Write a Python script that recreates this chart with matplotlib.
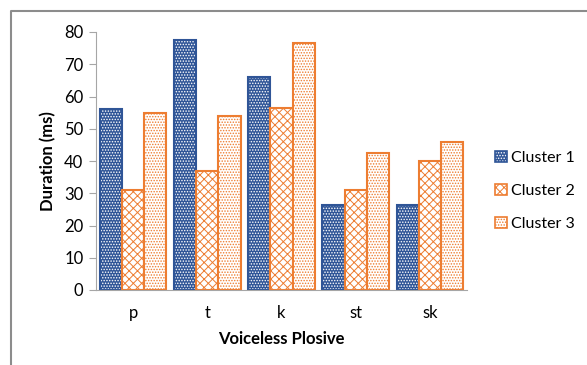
import matplotlib.pyplot as plt
import numpy as np
from matplotlib.patches import Patch
from matplotlib.lines import Line2D

plt.rcParams['font.family'] = ['Lato', 'DejaVu Sans']
plt.rcParams['hatch.linewidth'] = 0.7

plosives = ["p", "t", "k", "st", "sk"]
cluster1 = [56, 77.5, 66, 26.5, 26.5]
cluster2 = [31, 37, 56.5, 31, 40]
cluster3 = [55, 54, 76.5, 42.5, 46]
series_names = ["Cluster 1", "Cluster 2", "Cluster 3"]

blue = "#2F5597"
orange = "#ED7D31"

# (fill, hatch colour, hatch, outline) per series
styles = [
    (blue, "white", "......", blue),
    ("white", orange, "xxxx", orange),
    ("white", orange, "......", orange),
]

fig = plt.figure(figsize=(5.87, 3.65), dpi=100)
ax = fig.add_axes([96 / 587, 1 - 290 / 365, 371 / 587, 258 / 365])

x = np.arange(len(plosives))
w = 0.3
handles = []
for i, (vals, (fc, hc, hatch, ec)) in enumerate(zip([cluster1, cluster2, cluster3], styles)):
    pos = x + (i - 1) * w
    ax.bar(pos, vals, w, color=fc, edgecolor=hc, hatch=hatch, linewidth=0)
    ax.bar(pos, vals, w, facecolor="none", edgecolor=ec, linewidth=1.5)
    handles.append((Patch(facecolor=fc, edgecolor=hc, hatch=hatch, linewidth=0),
                    Patch(facecolor="none", edgecolor=ec, linewidth=1.2)))

ax.set_xlim(-0.5, len(plosives) - 0.5)
ax.set_ylim(0, 80)
ax.set_yticks(range(0, 81, 10))
ax.set_xticks(x)
ax.set_xticklabels(plosives)
ax.tick_params(axis="x", length=0, pad=11, labelsize=12)
ax.tick_params(axis="y", length=5, color="#A6A6A6", labelsize=12, pad=4)
for s in ["top", "right"]:
    ax.spines[s].set_visible(False)
ax.spines["left"].set_color("#A6A6A6")
ax.spines["bottom"].set_color("#A6A6A6")

ax.set_xlabel("Voiceless Plosive", fontsize=12, fontweight="bold", labelpad=7)
ax.set_ylabel("Duration (ms)", fontsize=12, fontweight="bold", labelpad=6)

fig.legend(handles, series_names, loc="center left", bbox_to_anchor=(481 / 587, 1 - 191 / 365),
           frameon=False, fontsize=11.5, handlelength=0.7, handleheight=0.7,
           handletextpad=0.25, labelspacing=1.2)

# outer chart border on left and top
fig.add_artist(Line2D([11 / 587, 11 / 587, 1], [0, 1 - 11 / 365, 1 - 11 / 365],
                      color="#8C8C8C", linewidth=1.5, transform=fig.transFigure))

fig.savefig("out.png", dpi=100)
